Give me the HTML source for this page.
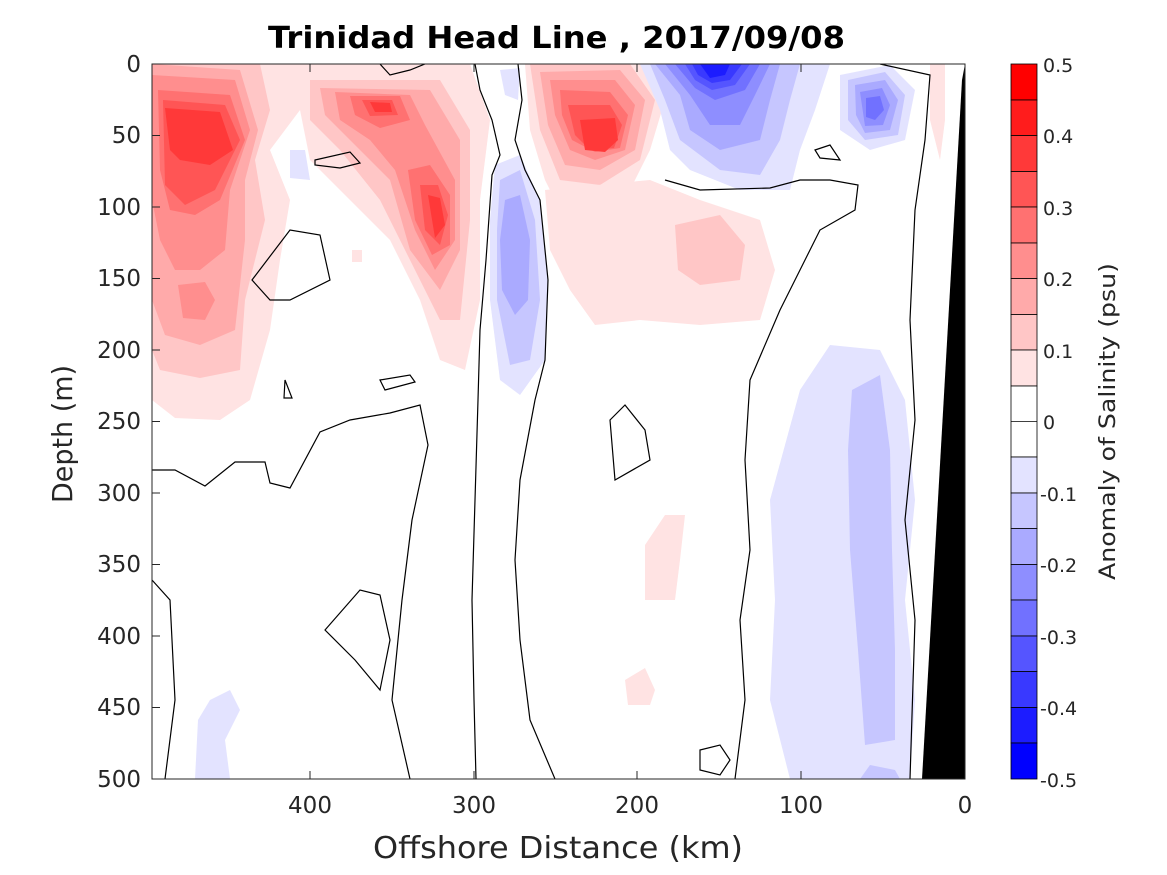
<!DOCTYPE html>
<html><head><style>
body{margin:0;background:#fff;}
svg{display:block;font-family:"DejaVu Sans","Liberation Sans",sans-serif;}
</style></head><body>
<svg width="1167" height="875" viewBox="0 0 1167 875" xmlns="http://www.w3.org/2000/svg">
<defs><clipPath id="c"><rect x="152" y="64" width="813" height="715"/></clipPath></defs>
<rect width="1167" height="875" fill="#fff"/>
<g clip-path="url(#c)">
<path d="M152,64 L300,64 L300,110 L270,150 L290,200 L280,260 L270,330 L250,400 L220,420 L175,418 L152,400Z" fill="#ffe3e3"/>
<path d="M152,64 L260,64 L270,110 L255,160 L265,220 L245,300 L240,370 L200,378 L160,370 L152,350Z" fill="#ffc6c6"/>
<path d="M152,64 L240,70 L258,130 L245,180 L245,240 L235,330 L200,345 L165,335 L152,300Z" fill="#ffaaaa"/>
<path d="M152,75 L235,80 L250,130 L230,190 L225,250 L200,270 L175,270 L160,240 L152,200Z" fill="#ff8e8e"/>
<path d="M158,90 L230,95 L245,140 L220,200 L195,215 L170,210 L160,170Z" fill="#ff7171"/>
<path d="M163,100 L225,105 L240,140 L215,190 L185,205 L165,185Z" fill="#ff5555"/>
<path d="M165,108 L220,112 L233,150 L210,165 L180,160 L170,150Z" fill="#ff3939"/>
<path d="M178,285 L205,282 L215,300 L205,320 L183,318Z" fill="#ff8e8e"/>
<path d="M290,64 L470,64 L490,120 L480,200 L480,300 L465,370 L440,360 L420,300 L390,240 L350,200 L310,160 L300,110Z" fill="#ffe3e3"/>
<path d="M310,80 L440,80 L470,130 L470,220 L460,320 L440,320 L410,260 L380,200 L340,150 L310,120Z" fill="#ffc6c6"/>
<path d="M320,88 L430,90 L460,140 L460,250 L440,290 L410,250 L390,180 L350,140 L325,115Z" fill="#ffaaaa"/>
<path d="M335,92 L410,95 L425,125 L455,180 L455,240 L435,270 L415,230 L395,170 L370,140 L340,120Z" fill="#ff8e8e"/>
<path d="M350,96 L400,96 L410,120 L380,128 L355,115Z M408,170 L430,165 L450,195 L450,245 L432,255 L415,220Z" fill="#ff7171"/>
<path d="M362,100 L392,100 L398,115 L370,116Z M420,185 L438,185 L448,215 L440,245 L425,230Z" fill="#ff5555"/>
<path d="M370,102 L390,103 L392,112 L375,112Z M428,195 L440,198 L445,225 L435,238Z" fill="#ff3939"/>
<path d="M525,64 L640,64 L665,100 L650,150 L630,190 L600,200 L560,210 L545,180 L530,130Z" fill="#ffe3e3"/>
<path d="M530,64 L630,64 L655,100 L640,160 L600,185 L560,180 L540,130Z" fill="#ffc6c6"/>
<path d="M540,72 L620,70 L645,100 L635,150 L600,170 L565,165 L548,125Z" fill="#ffaaaa"/>
<path d="M550,80 L615,80 L635,105 L625,150 L595,160 L570,150 L555,115Z" fill="#ff8e8e"/>
<path d="M560,90 L610,92 L628,115 L620,148 L595,152 L572,140 L562,115Z" fill="#ff7171"/>
<path d="M568,105 L610,105 L622,125 L614,148 L590,150 L575,135Z" fill="#ff5555"/>
<path d="M580,120 L615,118 L618,140 L605,152 L585,150Z" fill="#ff3939"/>
<path d="M545,190 L650,180 L700,200 L760,220 L775,270 L760,320 L700,325 L640,320 L595,325 L570,290 L550,250Z" fill="#ffe3e3"/>
<path d="M675,225 L720,215 L745,245 L740,280 L700,285 L678,270Z" fill="#ffc6c6"/>
<path d="M645,545 L665,515 L685,515 L680,560 L675,600 L645,600Z M625,680 L645,668 L655,690 L650,705 L628,705Z" fill="#ffe3e3"/>
<path d="M930,64 L945,64 L945,120 L940,160 L930,120Z" fill="#ffe3e3"/>
<path d="M640,64 L830,64 L815,110 L800,150 L790,190 L740,190 L690,170 L670,150 L660,110Z" fill="#e3e3ff"/>
<path d="M650,64 L800,64 L790,100 L780,140 L760,175 L720,170 L680,140 L665,100Z" fill="#c6c6ff"/>
<path d="M655,64 L780,64 L770,100 L760,140 L720,150 L690,130 L680,95Z" fill="#aaaaff"/>
<path d="M665,64 L770,64 L755,95 L740,125 L710,125 L690,95Z" fill="#8e8eff"/>
<path d="M675,64 L760,64 L745,90 L715,100 L695,88Z" fill="#7171ff"/>
<path d="M685,64 L750,64 L735,85 L712,90 L695,80Z" fill="#5555ff"/>
<path d="M692,64 L742,64 L730,80 L712,83 L698,75Z" fill="#3939ff"/>
<path d="M700,64 L730,64 L725,75 L710,78Z" fill="#1c1cff"/>
<path d="M840,75 L890,65 L915,90 L905,140 L870,150 L840,130Z" fill="#e3e3ff"/>
<path d="M848,80 L885,72 L905,95 L898,135 L865,140 L848,120Z" fill="#c6c6ff"/>
<path d="M855,85 L885,80 L898,100 L890,130 L865,133 L856,115Z" fill="#aaaaff"/>
<path d="M860,92 L882,88 L890,105 L883,125 L865,126Z" fill="#8e8eff"/>
<path d="M866,98 L880,96 L884,110 L875,120 L866,117Z" fill="#7171ff"/>
<path d="M495,165 L520,155 L540,200 L548,280 L545,360 L520,395 L500,380 L490,300 L490,220Z" fill="#e3e3ff"/>
<path d="M500,180 L520,170 L535,220 L540,300 L530,360 L510,365 L497,300 L497,230Z" fill="#c6c6ff"/>
<path d="M505,200 L520,195 L530,240 L528,300 L515,315 L502,290 L500,240Z" fill="#aaaaff"/>
<path d="M500,70 L520,68 L518,100 L505,95Z" fill="#e3e3ff"/>
<path d="M800,390 L830,345 L880,350 L905,400 L915,500 L905,600 L915,700 L910,779 L790,779 L770,700 L775,600 L770,500Z" fill="#e3e3ff"/>
<path d="M852,390 L880,375 L890,450 L892,550 L895,650 L895,740 L865,745 L858,650 L850,550 L848,450Z" fill="#c6c6ff"/>
<path d="M860,779 L870,765 L895,770 L900,779Z" fill="#c6c6ff"/>
<path d="M195,779 L198,720 L210,700 L230,690 L240,710 L225,740 L230,779Z" fill="#e3e3ff"/>
<path d="M290,150 L305,150 L310,180 L290,178Z" fill="#e3e3ff"/>
<path d="M352,250 L362,250 L362,262 L352,262Z" fill="#ffe3e3"/>
<g fill="none" stroke="#000" stroke-width="1.2">
<path d="M475,64 L480,90 L492,120 L500,155 L492,175 L486,260 L480,330 L478,400 L475,500 L472,600 L474,700 L476,779"/>
<path d="M518,64 L522,100 L515,140 L525,170 L540,200 L548,280 L545,360 L535,400 L520,480 L515,560 L520,640 L530,720 L555,779"/>
<path d="M252,280 L290,230 L320,235 L330,280 L290,300 L270,300Z"/>
<path d="M315,160 L350,152 L360,163 L340,168 L315,165Z"/>
<path d="M380,380 L410,375 L415,382 L385,390Z"/>
<path d="M285,380 L292,398 L284,398Z"/>
<path d="M152,470 L175,470 L205,486 L235,462 L265,462 L270,483 L290,488 L320,432 L350,420 L390,413 L420,405 L428,445 L412,520 L402,600 L392,700 L410,779"/>
<path d="M152,580 L170,600 L175,700 L165,779"/>
<path d="M325,630 L360,590 L380,595 L390,640 L380,690 L355,660Z"/>
<path d="M610,420 L625,405 L645,430 L650,460 L615,480Z"/>
<path d="M665,180 L700,190 L770,188 L800,180 L830,180 L858,185 L855,210 L820,230 L800,270 L780,310 L750,380 L745,460 L750,550 L740,620 L745,700 L735,779"/>
<path d="M700,750 L720,745 L730,760 L720,775 L700,770Z"/>
<path d="M815,150 L830,145 L840,160 L820,158Z"/>
<path d="M380,64 L390,75 L410,70 L425,64"/>
<path d="M880,64 L930,75 L925,140 L915,210 L910,320 L915,420 L905,520 L915,620 L910,779"/>
</g>
<polygon points="922,779 965,779 965,64 962,80" fill="#000"/>
</g>
<rect x="152" y="64" width="813" height="715" fill="none" stroke="#262626" stroke-width="1"/>
<g stroke="#262626" stroke-width="1">
<line x1="310" y1="779" x2="310" y2="771"/><line x1="474" y1="779" x2="474" y2="771"/><line x1="637" y1="779" x2="637" y2="771"/><line x1="801" y1="779" x2="801" y2="771"/>
<line x1="310" y1="64" x2="310" y2="72"/><line x1="474" y1="64" x2="474" y2="72"/><line x1="637" y1="64" x2="637" y2="72"/><line x1="801" y1="64" x2="801" y2="72"/>
<line x1="152" y1="135.5" x2="160" y2="135.5"/><line x1="152" y1="207" x2="160" y2="207"/><line x1="152" y1="278.5" x2="160" y2="278.5"/><line x1="152" y1="350" x2="160" y2="350"/><line x1="152" y1="421.5" x2="160" y2="421.5"/><line x1="152" y1="493" x2="160" y2="493"/><line x1="152" y1="564.5" x2="160" y2="564.5"/><line x1="152" y1="636" x2="160" y2="636"/><line x1="152" y1="707.5" x2="160" y2="707.5"/>
</g>
<g font-size="23" fill="#262626" text-anchor="end">
<text x="141" y="72">0</text><text x="141" y="143">50</text><text x="141" y="215">100</text><text x="141" y="286">150</text><text x="141" y="358">200</text><text x="141" y="429">250</text><text x="141" y="501">300</text><text x="141" y="572">350</text><text x="141" y="644">400</text><text x="141" y="715">450</text><text x="141" y="787">500</text>
</g>
<g font-size="23" fill="#262626" text-anchor="middle">
<text x="310" y="813">400</text><text x="474" y="813">300</text><text x="637" y="813">200</text><text x="801" y="813">100</text><text x="965" y="813">0</text>
</g>
<text x="373" y="858" font-size="30" fill="#262626" textLength="370" lengthAdjust="spacingAndGlyphs">Offshore Distance (km)</text>
<text transform="translate(72,503) rotate(-90)" font-size="28" fill="#262626" textLength="138" lengthAdjust="spacingAndGlyphs">Depth (m)</text>
<text x="268" y="48" font-size="30" font-weight="bold" fill="#000" textLength="577" lengthAdjust="spacingAndGlyphs">Trinidad Head Line , 2017/09/08</text>
<g stroke="#000" stroke-width="0.8">
<rect x="1011" y="64" width="26" height="36" fill="#ff0000"/>
<rect x="1011" y="100" width="26" height="35.5" fill="#ff1c1c"/>
<rect x="1011" y="135.5" width="26" height="36" fill="#ff3939"/>
<rect x="1011" y="171.5" width="26" height="35.5" fill="#ff5555"/>
<rect x="1011" y="207" width="26" height="36" fill="#ff7171"/>
<rect x="1011" y="243" width="26" height="35.5" fill="#ff8e8e"/>
<rect x="1011" y="278.5" width="26" height="36" fill="#ffaaaa"/>
<rect x="1011" y="314.5" width="26" height="35.5" fill="#ffc6c6"/>
<rect x="1011" y="350" width="26" height="36" fill="#ffe3e3"/>
<rect x="1011" y="386" width="26" height="71" fill="#ffffff"/>
<line x1="1011" y1="421.5" x2="1037" y2="421.5"/>
<rect x="1011" y="457" width="26" height="36" fill="#e3e3ff"/>
<rect x="1011" y="493" width="26" height="35.5" fill="#c6c6ff"/>
<rect x="1011" y="528.5" width="26" height="36" fill="#aaaaff"/>
<rect x="1011" y="564.5" width="26" height="35.5" fill="#8e8eff"/>
<rect x="1011" y="600" width="26" height="36" fill="#7171ff"/>
<rect x="1011" y="636" width="26" height="35.5" fill="#5555ff"/>
<rect x="1011" y="671.5" width="26" height="36" fill="#3939ff"/>
<rect x="1011" y="707.5" width="26" height="35.5" fill="#1c1cff"/>
<rect x="1011" y="743" width="26" height="36" fill="#0000ff"/>
</g>
<g font-size="19" fill="#262626">
<text x="1043" y="72">0.5</text><text x="1043" y="143">0.4</text><text x="1043" y="215">0.3</text><text x="1043" y="286">0.2</text><text x="1043" y="358">0.1</text><text x="1043" y="429">0</text><text x="1040" y="501">-0.1</text><text x="1040" y="572">-0.2</text><text x="1040" y="644">-0.3</text><text x="1040" y="715">-0.4</text><text x="1040" y="787">-0.5</text>
</g>
<text transform="translate(1115,580) rotate(-90)" font-size="22" fill="#262626" textLength="317" lengthAdjust="spacingAndGlyphs">Anomaly of Salinity (psu)</text>
</svg>
</body></html>
